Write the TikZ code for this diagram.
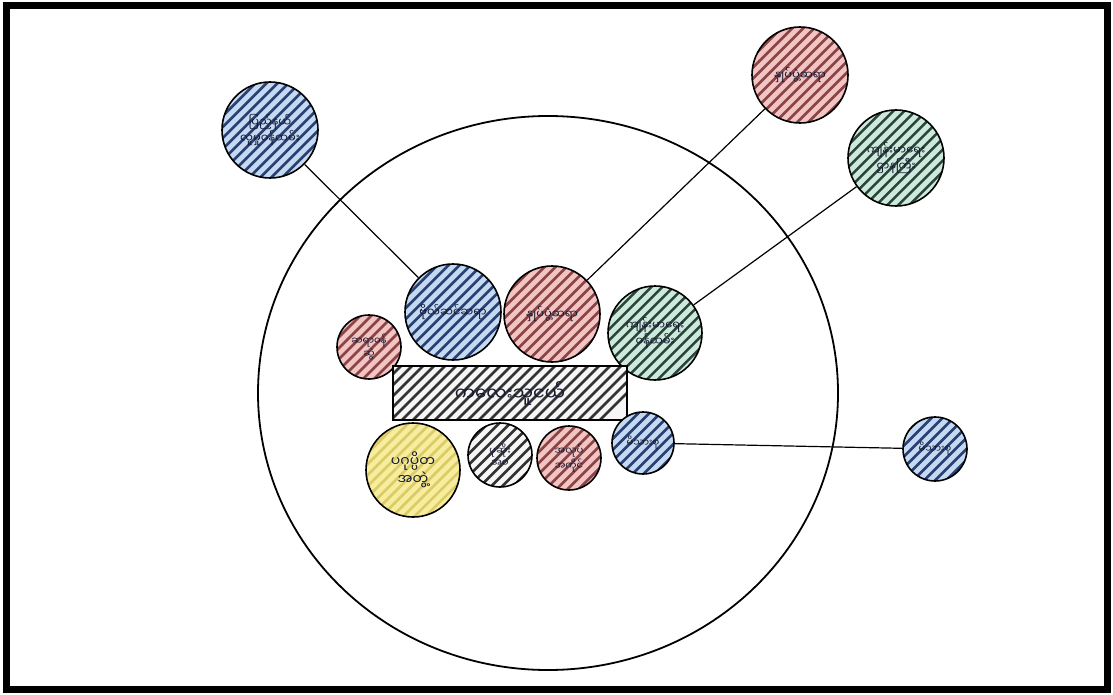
\documentclass[tikz,border=0pt]{standalone}
\usepackage{fontspec}
\newfontfamily\mya[Script=Myanmar]{Noto Sans Myanmar UI}
\definecolor{bfill}{HTML}{C4DAF2}
\definecolor{bline}{HTML}{2A3F72}
\definecolor{pfill}{HTML}{F2C4C4}
\definecolor{pline}{HTML}{8A4444}
\definecolor{gfill}{HTML}{CDE9DD}
\definecolor{gline}{HTML}{2A4438}
\definecolor{yfill}{HTML}{F6EE9E}
\definecolor{yline}{HTML}{DCCB66}
\definecolor{kfill}{HTML}{F6F6F6}
\definecolor{kline}{HTML}{333333}
\definecolor{txt}{HTML}{141830}
\tikzset{
  hatch/.style 2 args={fill=#1,
    path picture={\begin{scope}[shift={(path picture bounding box.center)}]
      \foreach \i in {-165,-154,...,165}
        \draw[#2, line width=2.6pt] (\i-72,72) -- (\i+72,-72);
      \end{scope}}},
  bub/.style={circle, draw=black, line width=1.6pt, inner sep=0pt, align=center,
    text=txt, font=\mya\fontsize{11.5}{13}\selectfont},
  link/.style={draw=black, line width=1.2pt},
}
\begin{document}
\begin{tikzpicture}[x=1pt,y=-1pt]
\useasboundingbox (0,0) rectangle (1113,695);
\fill[white] (0,0) rectangle (1113,695);
\draw[line width=7pt] (6,6) rectangle (1107,689);
% big circle
\draw[line width=1.8pt] (548,393) ellipse [x radius=290pt, y radius=277pt];
% outer circles
\node[bub, hatch={bfill}{bline}, minimum size=96pt] (tl) at (270,130) {ပြည့်နယ်\\လူမှုဝန်ထမ်း};
\node[bub, hatch={pfill}{pline}, minimum size=96pt] (tr) at (800,75) {နှုပ်ပွဲ့ဆရာ};
\node[bub, hatch={gfill}{gline}, minimum size=96pt] (gr) at (896,158) {ကျန်းမာရေး\\ဌာနကြီး};
\node[bub, hatch={bfill}{bline}, minimum size=64pt, font=\mya\fontsize{10}{12}\selectfont] (fr) at (935,449) {မိသားစု};
% inner circles
\node[bub, hatch={bfill}{bline}, minimum size=96pt] (ib) at (453,312) {ဗိုလ်ဆင်ဆရာ};
\node[bub, hatch={pfill}{pline}, minimum size=96pt] (ip) at (552,314) {နှုပ်ပွဲ့ဆရာ};
\node[bub, hatch={gfill}{gline}, minimum size=94pt] (ig) at (655,333) {ကျန်းမာရေး\\ဝန်ထမ်း};
\node[bub, hatch={pfill}{pline}, minimum size=64pt, font=\mya\fontsize{10}{12}\selectfont] (sp) at (369,347) {ဆရာဝန်\\ဆွဲ};
\node[draw=black, line width=1.6pt, hatch={kfill}{kline}, minimum width=234pt, minimum height=54pt, inner sep=0pt,
  text=txt, font=\mya\fontsize{18}{20}\selectfont] (ctr) at (510,393) {ကလေးသူငယ်};
\node[bub, hatch={yfill}{yline}, minimum size=94pt, font=\mya\fontsize{14}{17}\selectfont] (ye) at (413,470) {ပဂုပ္ပိတ\\အတွဲ့};
\node[bub, hatch={kfill}{kline}, minimum size=64pt, font=\mya\fontsize{10}{12}\selectfont] (gy) at (500,455) {ပုဆိုး\\အဝ};
\node[bub, hatch={pfill}{pline}, minimum size=64pt, font=\mya\fontsize{10}{12}\selectfont] (pk) at (569,458) {အလုပ်\\အကိုင်};
\node[bub, hatch={bfill}{bline}, minimum size=62pt, font=\mya\fontsize{10}{12}\selectfont] (sb) at (643,443) {မိသားစု};
% connectors
\draw[link] (tl) -- (ib);
\draw[link] (tr) -- (ip);
\draw[link] (gr) -- (ig);
\draw[link] (sb) -- (fr);
\end{tikzpicture}
\end{document}
